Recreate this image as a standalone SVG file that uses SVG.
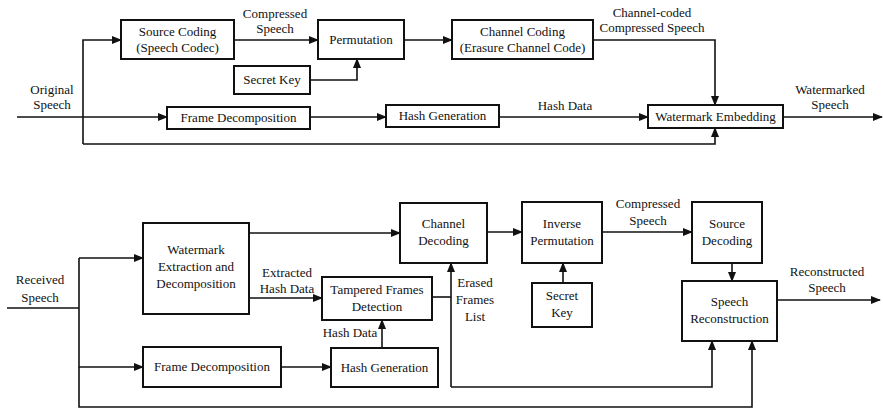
<svg xmlns="http://www.w3.org/2000/svg" width="883" height="408" viewBox="0 0 883 408">
<defs>
<marker id="ah" markerWidth="10" markerHeight="8" refX="9" refY="4" orient="auto" markerUnits="userSpaceOnUse">
<path d="M0,0 L10,4 L0,8 Z" fill="#111"/>
</marker>
</defs>
<style>
.box{fill:#fff;stroke:#111;stroke-width:2}
.ln{fill:none;stroke:#111;stroke-width:1.6}
.ar{fill:none;stroke:#111;stroke-width:1.6;marker-end:url(#ah)}
text{font-family:"Liberation Serif","Times New Roman",serif;font-size:13px;fill:#111;text-anchor:middle}
</style>
<rect width="883" height="408" fill="#fff"/>
<g id="connectors">
<!-- top -->
<path class="ln" d="M17,117 H83"/>
<path class="ar" d="M83,117 H167"/>
<path class="ar" d="M83,144 V40 H121"/>
<path class="ar" d="M83,144 H715 V128"/>
<path class="ar" d="M234,40 H318"/>
<path class="ar" d="M310,80 H357 V59"/>
<path class="ar" d="M404,40 H452"/>
<path class="ar" d="M593,40 H715 V105"/>
<path class="ar" d="M310,117 H386"/>
<path class="ar" d="M499,117 H648"/>
<path class="ar" d="M783,117 H882"/>
<!-- bottom -->
<path class="ln" d="M7,308 H79"/>
<path class="ar" d="M79,258 H143"/>
<path class="ar" d="M79,258 V367 H143"/>
<path class="ar" d="M79,367 V407 H752 V341"/>
<path class="ar" d="M249,233 H400"/>
<path class="ar" d="M249,298 H322"/>
<path class="ar" d="M281,367 H331"/>
<path class="ar" d="M382,348 V320"/>
<path class="ln" d="M432,297 H451"/>
<path class="ar" d="M451,387 V263"/>
<path class="ar" d="M451,387 H712 V341"/>
<path class="ar" d="M487,232 H522"/>
<path class="ar" d="M563,283 V263"/>
<path class="ar" d="M602,232 H692"/>
<path class="ar" d="M732,263 V281"/>
<path class="ar" d="M777,300 H880"/>
</g>
<g id="source-coding"><rect class="box" x="121" y="20" width="113" height="39"/><text x="177.5" y="36">Source Coding</text><text x="177.5" y="52">(Speech Codec)</text></g>
<g id="permutation"><rect class="box" x="318" y="20" width="86" height="39"/><text x="361" y="44">Permutation</text></g>
<g id="secret-key-1"><rect class="box" x="234" y="66" width="76" height="28"/><text x="272" y="84">Secret Key</text></g>
<g id="channel-coding"><rect class="box" x="452" y="20" width="141" height="39"/><text x="522.5" y="36">Channel Coding</text><text x="522.5" y="52">(Erasure Channel Code)</text></g>
<g id="frame-decomposition-1"><rect class="box" x="167" y="107" width="143" height="22"/><text x="238.5" y="122">Frame Decomposition</text></g>
<g id="hash-generation-1"><rect class="box" x="386" y="105" width="113" height="22"/><text x="442.5" y="120">Hash Generation</text></g>
<g id="watermark-embedding"><rect class="box" x="648" y="105" width="135" height="23"/><text x="715.5" y="121">Watermark Embedding</text></g>
<g id="top-labels">
<text x="52" y="94">Original</text><text x="52" y="109">Speech</text>
<text x="275" y="18">Compressed</text><text x="275" y="33">Speech</text>
<text x="652" y="17">Channel-coded</text><text x="652" y="32">Compressed Speech</text>
<text x="565" y="110">Hash Data</text>
<text x="830" y="94">Watermarked</text><text x="830" y="109">Speech</text>
</g>
<g id="watermark-extraction"><rect class="box" x="143" y="223" width="106" height="91"/><text x="196" y="254">Watermark</text><text x="196" y="271">Extraction and</text><text x="196" y="288">Decomposition</text></g>
<g id="frame-decomposition-2"><rect class="box" x="143" y="347" width="138" height="40"/><text x="212" y="371">Frame Decomposition</text></g>
<g id="channel-decoding"><rect class="box" x="400" y="203" width="87" height="60"/><text x="443.5" y="228">Channel</text><text x="443.5" y="245">Decoding</text></g>
<g id="tampered-frames"><rect class="box" x="322" y="277" width="110" height="43"/><text x="377" y="294">Tampered Frames</text><text x="377" y="311">Detection</text></g>
<g id="hash-generation-2"><rect class="box" x="331" y="348" width="107" height="39"/><text x="384.5" y="372">Hash Generation</text></g>
<g id="inverse-permutation"><rect class="box" x="522" y="202" width="80" height="61"/><text x="562" y="228">Inverse</text><text x="562" y="245">Permutation</text></g>
<g id="secret-key-2"><rect class="box" x="532" y="283" width="60" height="44"/><text x="562" y="300">Secret</text><text x="562" y="317">Key</text></g>
<g id="source-decoding"><rect class="box" x="692" y="202" width="70" height="61"/><text x="727" y="228">Source</text><text x="727" y="245">Decoding</text></g>
<g id="speech-reconstruction"><rect class="box" x="682" y="281" width="95" height="60"/><text x="729.5" y="306">Speech</text><text x="729.5" y="323">Reconstruction</text></g>
<g id="bottom-labels">
<text x="40" y="284">Received</text><text x="40" y="302">Speech</text>
<text x="287" y="277">Extracted</text><text x="287" y="293">Hash Data</text>
<text x="475" y="287">Erased</text><text x="475" y="304">Frames</text><text x="475" y="321">List</text>
<text x="350" y="337">Hash Data</text>
<text x="648" y="208">Compressed</text><text x="648" y="225">Speech</text>
<text x="827" y="276">Reconstructed</text><text x="827" y="292">Speech</text>
</g>
</svg>
